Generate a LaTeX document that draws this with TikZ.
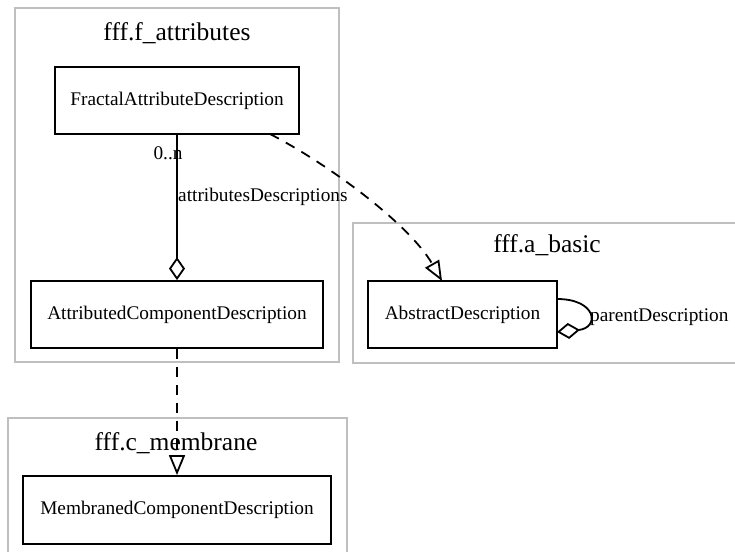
\documentclass[tikz,border=0pt]{standalone}
\usepackage{fontspec}
\setmainfont{Liberation Serif}
\usetikzlibrary{arrows.meta}
\begin{document}
\begin{tikzpicture}[x=1pt,y=-1pt,
  cluster/.style={draw=black!25, line width=1.6pt},
  ctitle/.style={font=\fontsize{25.5}{28}\selectfont, inner sep=0pt},
  cls/.style={draw, line width=1.8pt, inner sep=0pt, font=\fontsize{19.3}{22}\selectfont, minimum height=67pt},
  elabel/.style={font=\fontsize{19.3}{22}\selectfont, inner sep=0pt},
  assoc/.style={line width=1.8pt, -{Diamond[open, length=23pt, width=16pt, line width=1.8pt]}},
  inherit/.style={line width=1.8pt, dash pattern=on 10pt off 8pt, -{Triangle[open, length=20pt, width=16pt, line width=1.8pt]}}
]
\useasboundingbox (0,0) rectangle (735,551);
% clusters
\draw[cluster] (15,8) rectangle (339,362);
\draw[cluster] (353,223) rectangle (745,363);
\draw[cluster] (8,418) rectangle (347,570);
\node[ctitle] (t1) at (177,33) {fff.f\_attributes};
\node[ctitle] (t2) at (547,245) {fff.a\_basic};
\node[ctitle] (t3) at (176,443) {fff.c\_membrane};
% classes
\node[cls, minimum width=244pt] (frac) at (177,100.5) {FractalAttributeDescription};
\node[cls, minimum width=292pt] (attr) at (177,314.5) {AttributedComponentDescription};
\node[cls, minimum width=189pt] (abs) at (462.5,314.5) {AbstractDescription};
\node[cls, minimum width=308pt, minimum height=68pt] (memb) at (177,510) {MembranedComponentDescription};
% edges
\draw[assoc] (frac.south) -- (attr.north);
\node[elabel] (card) at (168,153) {0..n};
\node[elabel, anchor=west] (role) at (178,197) {attributesDescriptions};
\coordinate (fs) at (270,134);
\coordinate (an) at (442,281);
\draw[inherit] (fs) .. controls (330,165) and (410,225) .. (an);
\draw[inherit] (attr.south) -- (memb.north);
\coordinate (lp1) at (557,299);
\coordinate (lp2) at (557,332);
\draw[assoc] (lp1) .. controls (597,299) and (600,328) .. (lp2);
\node[elabel, anchor=west] (pd) at (590,317) {parentDescription};
\end{tikzpicture}
\end{document}
